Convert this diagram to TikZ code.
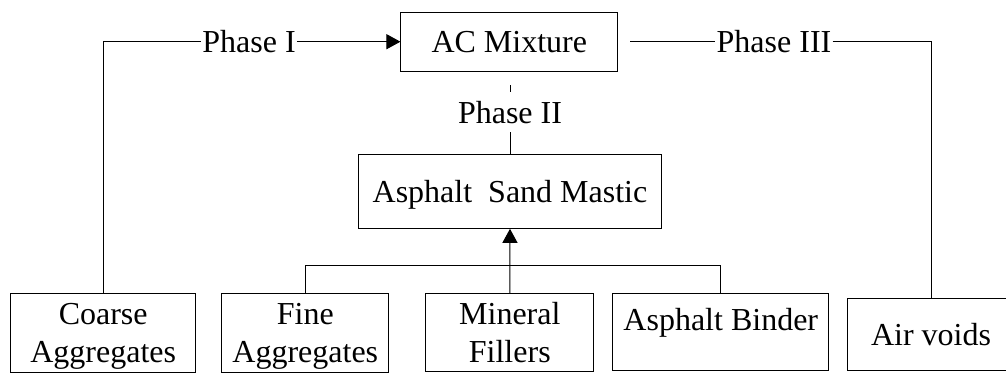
\documentclass[tikz,border=0pt]{standalone}
\usepackage{fontspec}
\setmainfont{Liberation Serif}
\usetikzlibrary{arrows.meta}
\begin{document}
\begin{tikzpicture}[x=1pt,y=-1pt,
  every node/.style={font=\fontsize{32}{37.4}\selectfont},
  box/.style={draw,line width=1pt,inner sep=0pt,align=center,text depth=0pt},
  link/.style={line width=1pt},
  tag/.style={inner xsep=1pt,inner ysep=9pt,text height=22pt,text depth=0pt},
  tip/.style={-{Triangle[length=14pt,width=15pt]}}]
\useasboundingbox (0,0) rectangle (1006,373);

% components
\node[box,minimum width=216.7pt,minimum height=58.7pt] (ac) at (509.3,41.7) {AC Mixture};
\node[box,minimum width=303.4pt,minimum height=73.6pt] (mastic) at (510,191.5) {Asphalt\ \ Sand Mastic};
\node[box,minimum width=185pt,minimum height=78.7pt] (coarse) at (103.2,332.7) {Coarse\\Aggregates};
\node[box,minimum width=167.3pt,minimum height=78.7pt] (fine) at (305.3,332.7) {Fine\\Aggregates};
\node[box,minimum width=168.3pt,minimum height=78.4pt] (mineral) at (509.8,332.5) {Mineral\\Fillers};
\node[box,minimum width=216.3pt,minimum height=76.7pt,text height=22pt,text depth=24pt] (binder) at (720.8,331.7) {Asphalt Binder};
\node[box,minimum width=167.4pt,minimum height=72.4pt] (air) at (931,334.5) {Air voids};

% phase labels
\node[tag] (p1) at (249,41.7) {Phase I};
\node[tag] (p2) at (510,112) {Phase II};
\node[tag] (p3) at (774,41.7) {Phase III};

\coordinate (p2s) at (510,85);
\coordinate (p3s) at (630,41.7);
\coordinate (bus) at (510,265.7);

% phase I: coarse aggregates into the mixture
\draw[link] (coarse.north) |- (p1.west);
\draw[link,tip] (p1.east) -- (ac.west);

% phase II: mastic
\draw[link] (p2s) -- (p2.north);
\draw[link] (p2.south) -- (mastic.north);

% phase III: air voids
\draw[link] (p3s) -- (p3.west);
\draw[link] (p3.east) -| (air.north);

% mastic constituents
\draw[link] (fine.north) |- (bus) -| (binder.north);
\draw[link,tip] (mineral.north) -- (mastic.south);
\end{tikzpicture}
\end{document}
